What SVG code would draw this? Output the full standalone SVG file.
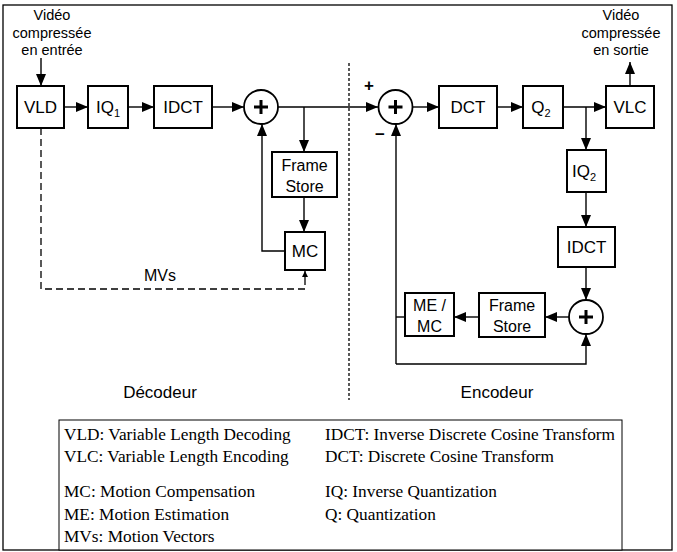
<svg xmlns="http://www.w3.org/2000/svg" width="677" height="552" viewBox="0 0 677 552">
<defs>
<marker id="ah" viewBox="0 0 12 10" refX="12" refY="5" markerWidth="12" markerHeight="10" markerUnits="userSpaceOnUse" orient="auto"><path d="M0,0 L12,5 L0,10 Z" fill="#000"/></marker>
<marker id="ahs" viewBox="0 0 6 6" refX="6" refY="3" markerWidth="6" markerHeight="6" markerUnits="userSpaceOnUse" orient="auto"><path d="M0,0 L6,3 L0,6 Z" fill="#000"/></marker>
</defs>
<style>
.box{fill:#fff;stroke:#000;stroke-width:2}
.sum{fill:#fff;stroke:#000;stroke-width:1.8}
.lbl{font-family:"Liberation Sans",Arial,sans-serif;font-size:17px;text-anchor:middle;fill:#000}
.lbl2{font-family:"Liberation Sans",Arial,sans-serif;font-size:16px;text-anchor:middle;fill:#000}
.ttl{font-family:"Liberation Sans",Arial,sans-serif;font-size:17px;text-anchor:middle;fill:#000}
.io{font-family:"Liberation Sans",Arial,sans-serif;font-size:14.5px;text-anchor:middle;fill:#000}
.lg{font-family:"Liberation Serif","Times New Roman",serif;font-size:17.3px;fill:#000}
.ln{fill:none;stroke:#000;stroke-width:1.4}
.arr{fill:none;stroke:#000;stroke-width:1.4;marker-end:url(#ah)}
.plus{stroke:#000;stroke-width:3}
</style>
<rect x="3" y="5" width="669" height="545" fill="none" stroke="#000" stroke-width="1.3"/>
<line x1="349" y1="63" x2="349" y2="400" stroke="#000" stroke-width="1.3" stroke-dasharray="3,2"/>

<g id="connectors">
<path class="arr" d="M41,58 L41,86"/>
<path class="arr" d="M64,107 L88,107"/>
<path class="arr" d="M128,107 L154,107"/>
<path class="arr" d="M212,107 L244,107"/>
<path class="arr" d="M278,107 L378,107"/>
<path class="arr" d="M304,107 L304,152"/>
<path class="arr" d="M304,197 L304,232"/>
<path class="arr" d="M285,251 L262,251 L262,124"/>
<path d="M41,128 L41,289 L305,289 L305,277" fill="none" stroke="#000" stroke-width="1.3" stroke-dasharray="7,4"/>
<path d="M305,278 L305,271" fill="none" stroke="#000" stroke-width="1.3" marker-end="url(#ahs)"/>
<path class="arr" d="M413,107 L439,107"/>
<path class="arr" d="M497,107 L523,107"/>
<path class="arr" d="M563,107 L606,107"/>
<path class="arr" d="M586,107 L586,150"/>
<path class="arr" d="M630,86 L630,62"/>
<path class="arr" d="M586,192 L586,227"/>
<path class="arr" d="M586,267 L586,300"/>
<path class="arr" d="M570,317 L545,317"/>
<path class="arr" d="M479,317 L454,317"/>
<path class="ln" d="M405,317 L396,317"/>
<path class="arr" d="M396,364 L396,124"/>
<path class="arr" d="M396,364 L586,364 L586,334"/>
</g>

<g id="in-label"><text class="io" x="52" y="20">Vidéo</text><text class="io" x="52" y="38">compressée</text><text class="io" x="52" y="55">en entrée</text></g>
<g id="out-label"><text class="io" x="621" y="20">Vidéo</text><text class="io" x="621" y="38">compressée</text><text class="io" x="621" y="55">en sortie</text></g>

<g id="vld"><rect class="box" x="17" y="86" width="47" height="42"/><text class="lbl" x="40.5" y="113">VLD</text></g>
<g id="iq1"><rect class="box" x="88" y="86" width="40" height="42"/><text class="lbl" x="108" y="113">IQ<tspan font-size="11" dy="4">1</tspan></text></g>
<g id="idct1"><rect class="box" x="154" y="86" width="58" height="42"/><text class="lbl" x="183" y="113">IDCT</text></g>
<g id="sum1"><circle class="sum" cx="261" cy="107" r="17"/><path class="plus" d="M254,107 H268 M261,100 V114"/></g>
<g id="fs1"><rect class="box" x="272" y="152" width="65" height="45"/><text class="lbl2" x="304.5" y="171">Frame</text><text class="lbl2" x="304.5" y="192">Store</text></g>
<g id="mc1"><rect class="box" x="285" y="232" width="40" height="38"/><text class="lbl" x="305" y="257">MC</text></g>
<g id="mvs"><text class="lbl2" x="160" y="281">MVs</text></g>

<g id="sum2"><circle class="sum" cx="395.5" cy="107" r="17"/><path class="plus" d="M388.5,107 H402.5 M395.5,100 V114"/>
<text class="lbl" x="369" y="91" font-weight="bold">+</text><text class="lbl" x="380" y="140" font-weight="bold">−</text></g>
<g id="dct"><rect class="box" x="439" y="86" width="58" height="42"/><text class="lbl" x="468" y="113">DCT</text></g>
<g id="q2"><rect class="box" x="523" y="86" width="40" height="42"/><text class="lbl" x="541" y="113">Q<tspan font-size="11" dy="4">2</tspan></text></g>
<g id="vlc"><rect class="box" x="606" y="86" width="48" height="42"/><text class="lbl" x="630" y="113">VLC</text></g>
<g id="iq2"><rect class="box" x="567" y="150" width="39" height="42"/><text class="lbl" x="584" y="177">IQ<tspan font-size="11" dy="4">2</tspan></text></g>
<g id="idct2"><rect class="box" x="558" y="227" width="57" height="40"/><text class="lbl" x="586.5" y="253">IDCT</text></g>
<g id="sum3"><circle class="sum" cx="586" cy="317" r="17"/><path class="plus" d="M579,317 H593 M586,310 V324"/></g>
<g id="fs2"><rect class="box" x="479" y="293" width="66" height="44"/><text class="lbl2" x="512" y="311">Frame</text><text class="lbl2" x="512" y="332">Store</text></g>
<g id="memc"><rect class="box" x="405" y="293" width="49" height="43"/><text class="lbl2" x="429.5" y="311">ME /</text><text class="lbl2" x="429.5" y="332">MC</text></g>

<g id="titles"><text class="ttl" x="160" y="398">Décodeur</text><text class="ttl" x="497" y="398">Encodeur</text></g>

<g id="legend">
<rect x="59" y="420" width="563" height="130" fill="#fff" stroke="#000" stroke-width="1"/>
<text class="lg" x="64" y="440">VLD: Variable Length Decoding</text>
<text class="lg" x="64" y="462">VLC: Variable Length Encoding</text>
<text class="lg" x="64" y="497">MC: Motion Compensation</text>
<text class="lg" x="64" y="520">ME: Motion Estimation</text>
<text class="lg" x="64" y="542">MVs: Motion Vectors</text>
<text class="lg" x="325" y="440">IDCT: Inverse Discrete Cosine Transform</text>
<text class="lg" x="325" y="462">DCT: Discrete Cosine Transform</text>
<text class="lg" x="325" y="497">IQ: Inverse Quantization</text>
<text class="lg" x="325" y="520">Q: Quantization</text>
</g>
</svg>
